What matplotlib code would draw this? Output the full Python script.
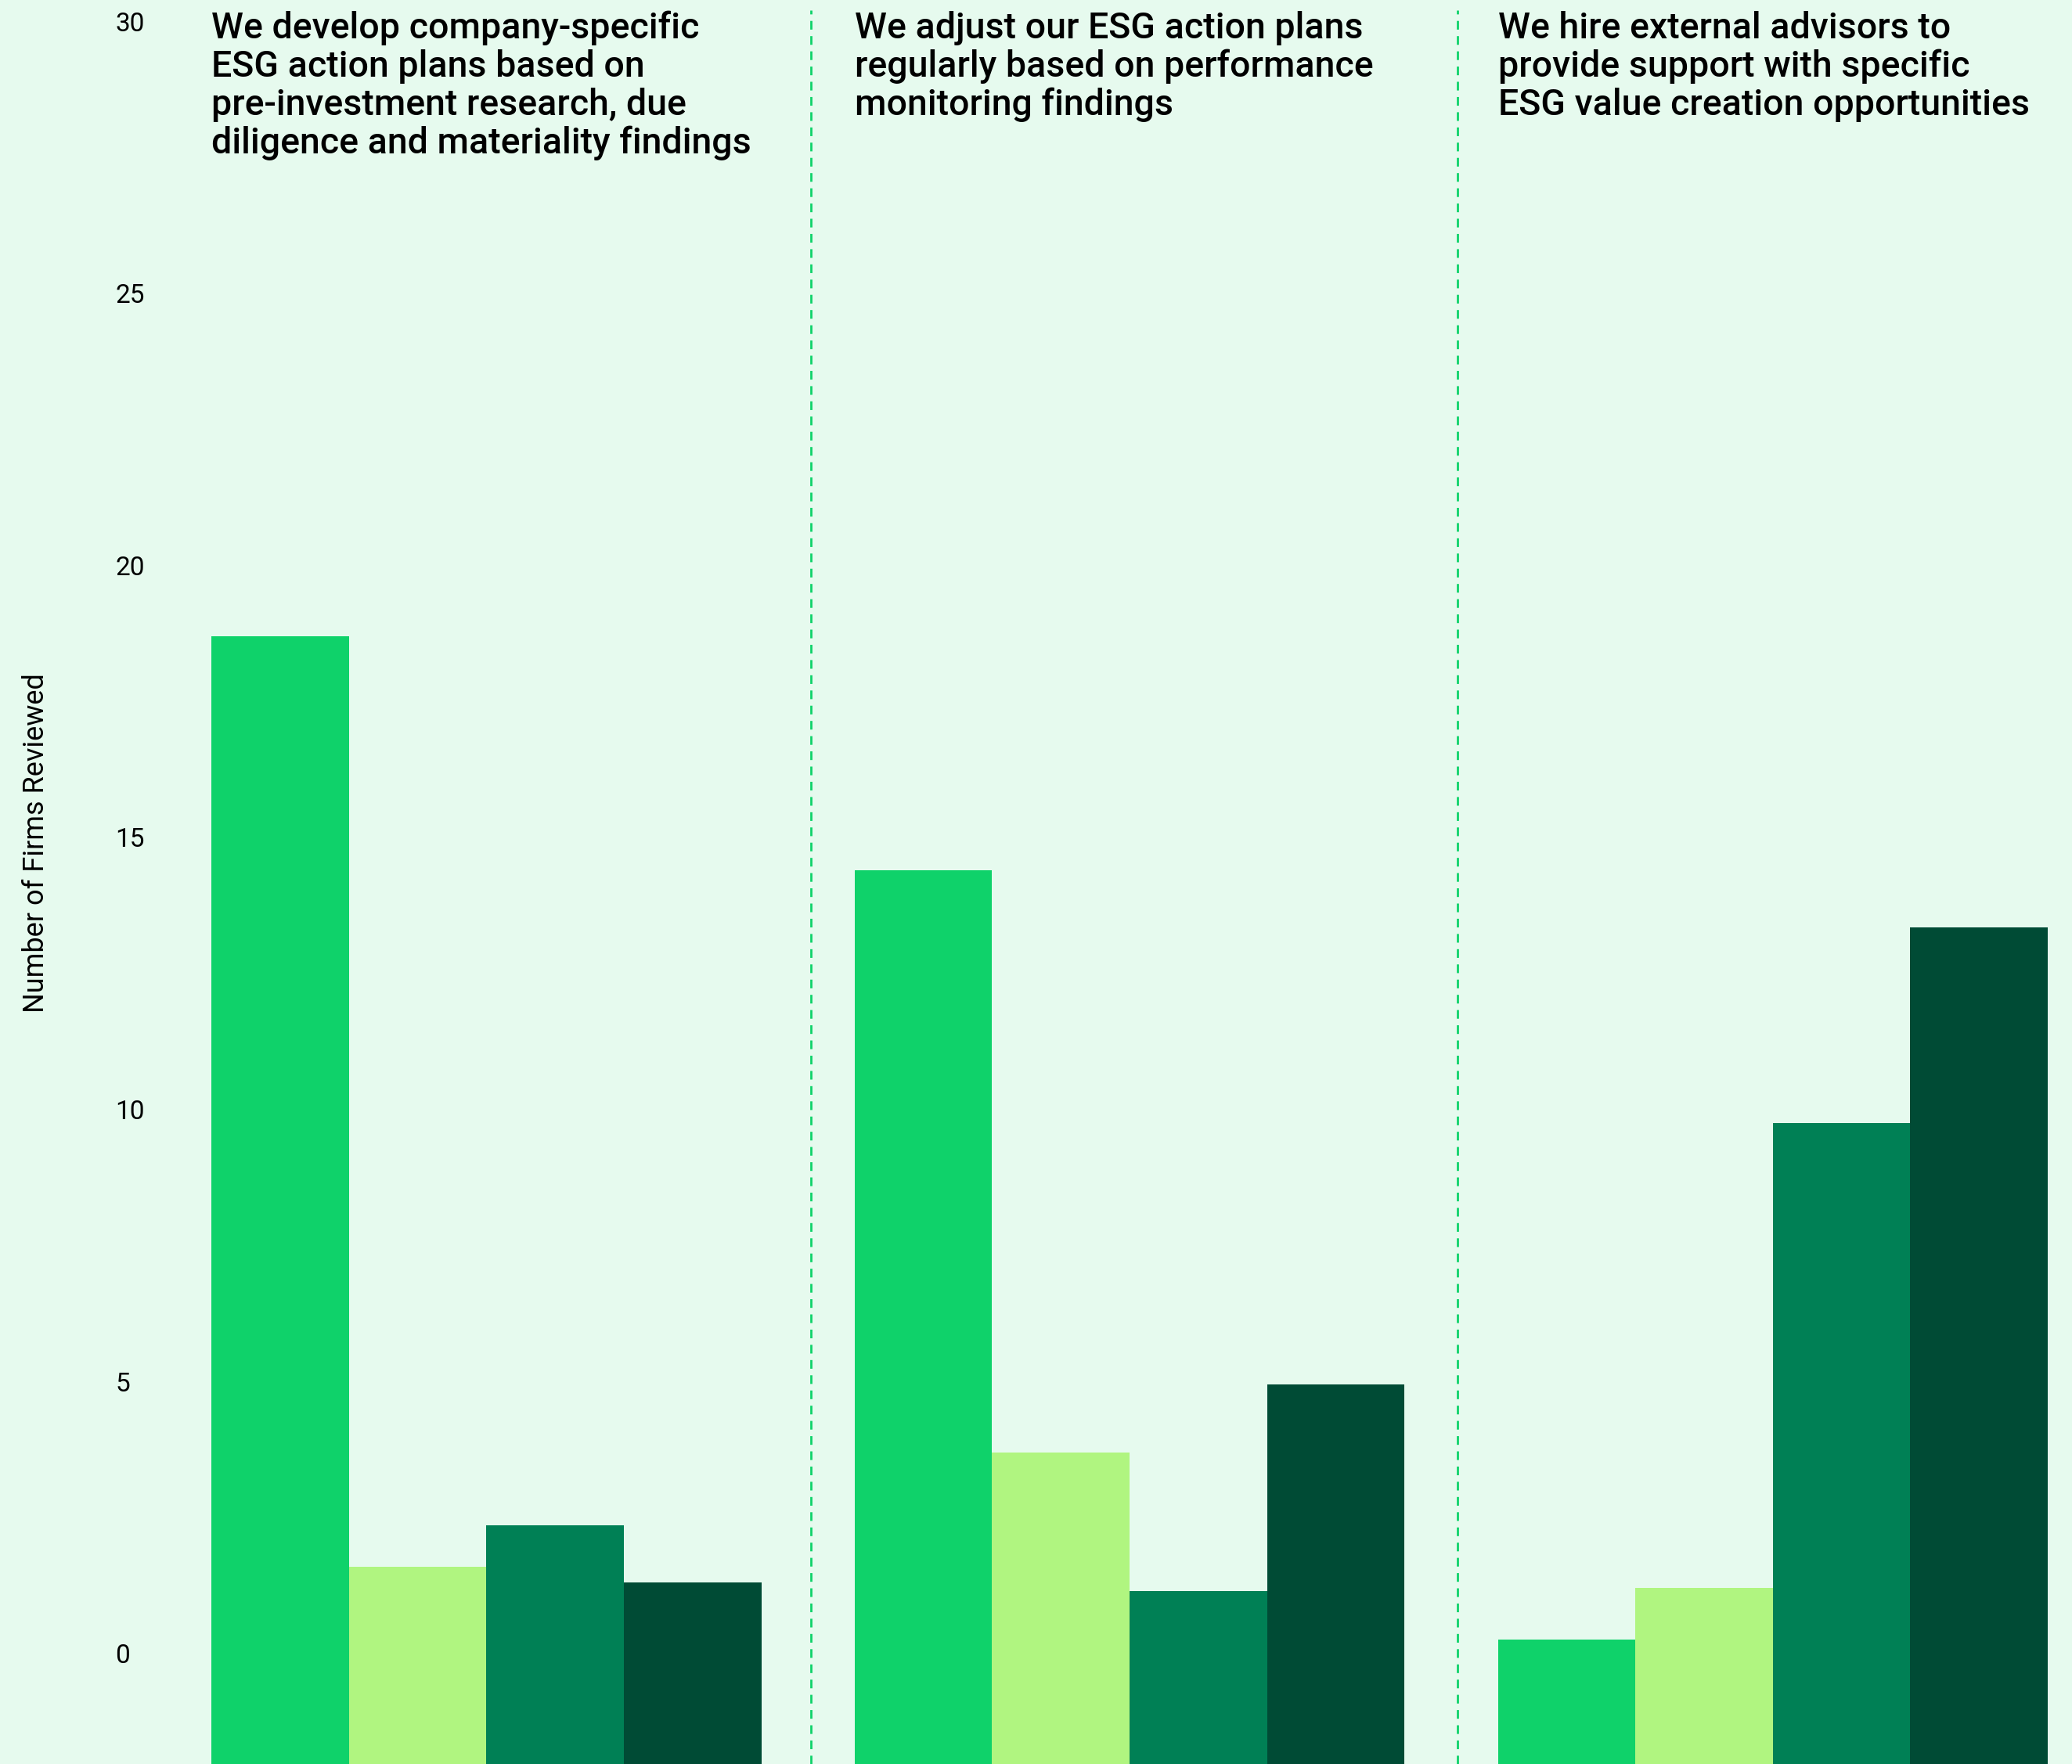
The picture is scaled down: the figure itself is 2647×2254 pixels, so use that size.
import numpy as np
import matplotlib.pyplot as plt

# data
titles = [
    "We develop company-specific\nESG action plans based on\npre-investment research, due\ndiligence and materiality findings",
    "We adjust our ESG action plans\nregularly based on performance\nmonitoring findings",
    "We hire external advisors to\nprovide support with specific\nESG value creation opportunities",
]
series_1 = [18.7, 14.4, 0.25]
series_2 = [1.6, 3.7, 1.2]
series_3 = [2.35, 1.15, 9.75]
series_4 = [1.3, 4.95, 13.35]
yticks = [0, 5, 10, 15, 20, 25, 30]

colors = ["#0FD26A", "#B0F580", "#008055", "#004B35"]
bg = "#E6FAEE"

y_lo, y_hi = -2.03, 30.39

fig = plt.figure(figsize=(26.47, 22.54), dpi=100)
fig.patch.set_facecolor(bg)
ax = fig.add_axes([0, 0, 1, 1])
ax.set_facecolor(bg)

x = np.arange(len(titles))
w = 0.2137
allser = [series_1, series_2, series_3, series_4]
for k, ser in enumerate(allser):
    vals = np.array(ser)
    ax.bar(x + (k - 1.5) * w, vals - y_lo, bottom=y_lo, width=w,
           color=colors[k], linewidth=0)

# dashed separators
for xs in [0.505, 1.51]:
    ax.plot([xs, xs], [y_lo, 30.2], color="#0FD26A", lw=2,
            linestyle=(0, (4, 3)))

# group titles
for i, t in enumerate(titles):
    ax.text(i - 2 * w, 0.994, t, transform=ax.get_xaxis_transform(),
            ha="left", va="top", fontsize=33.5, fontweight="medium",
            family=["Roboto", "DejaVu Sans"], linespacing=1.14)

ax.set_xlim(-0.756, 2.465)
ax.set_ylim(y_lo, y_hi)
ax.set_xticks([])
ax.set_yticks(yticks)
ax.set_yticklabels([str(v) for v in yticks], fontsize=24,
                   family=["Roboto", "DejaVu Sans"])
ax.tick_params(axis="y", length=0, pad=-106)
for lab in ax.get_yticklabels():
    lab.set_horizontalalignment("left")

ax.set_ylabel("Number of Firms Reviewed", fontsize=26,
              family=["Roboto", "DejaVu Sans"])
ax.yaxis.set_label_coords(46 / 2647, 1 - 1077 / 2254)
ax.yaxis.label.set_verticalalignment("center")

for s in ax.spines.values():
    s.set_visible(False)

fig.savefig("out.png", dpi=100, facecolor=bg)
